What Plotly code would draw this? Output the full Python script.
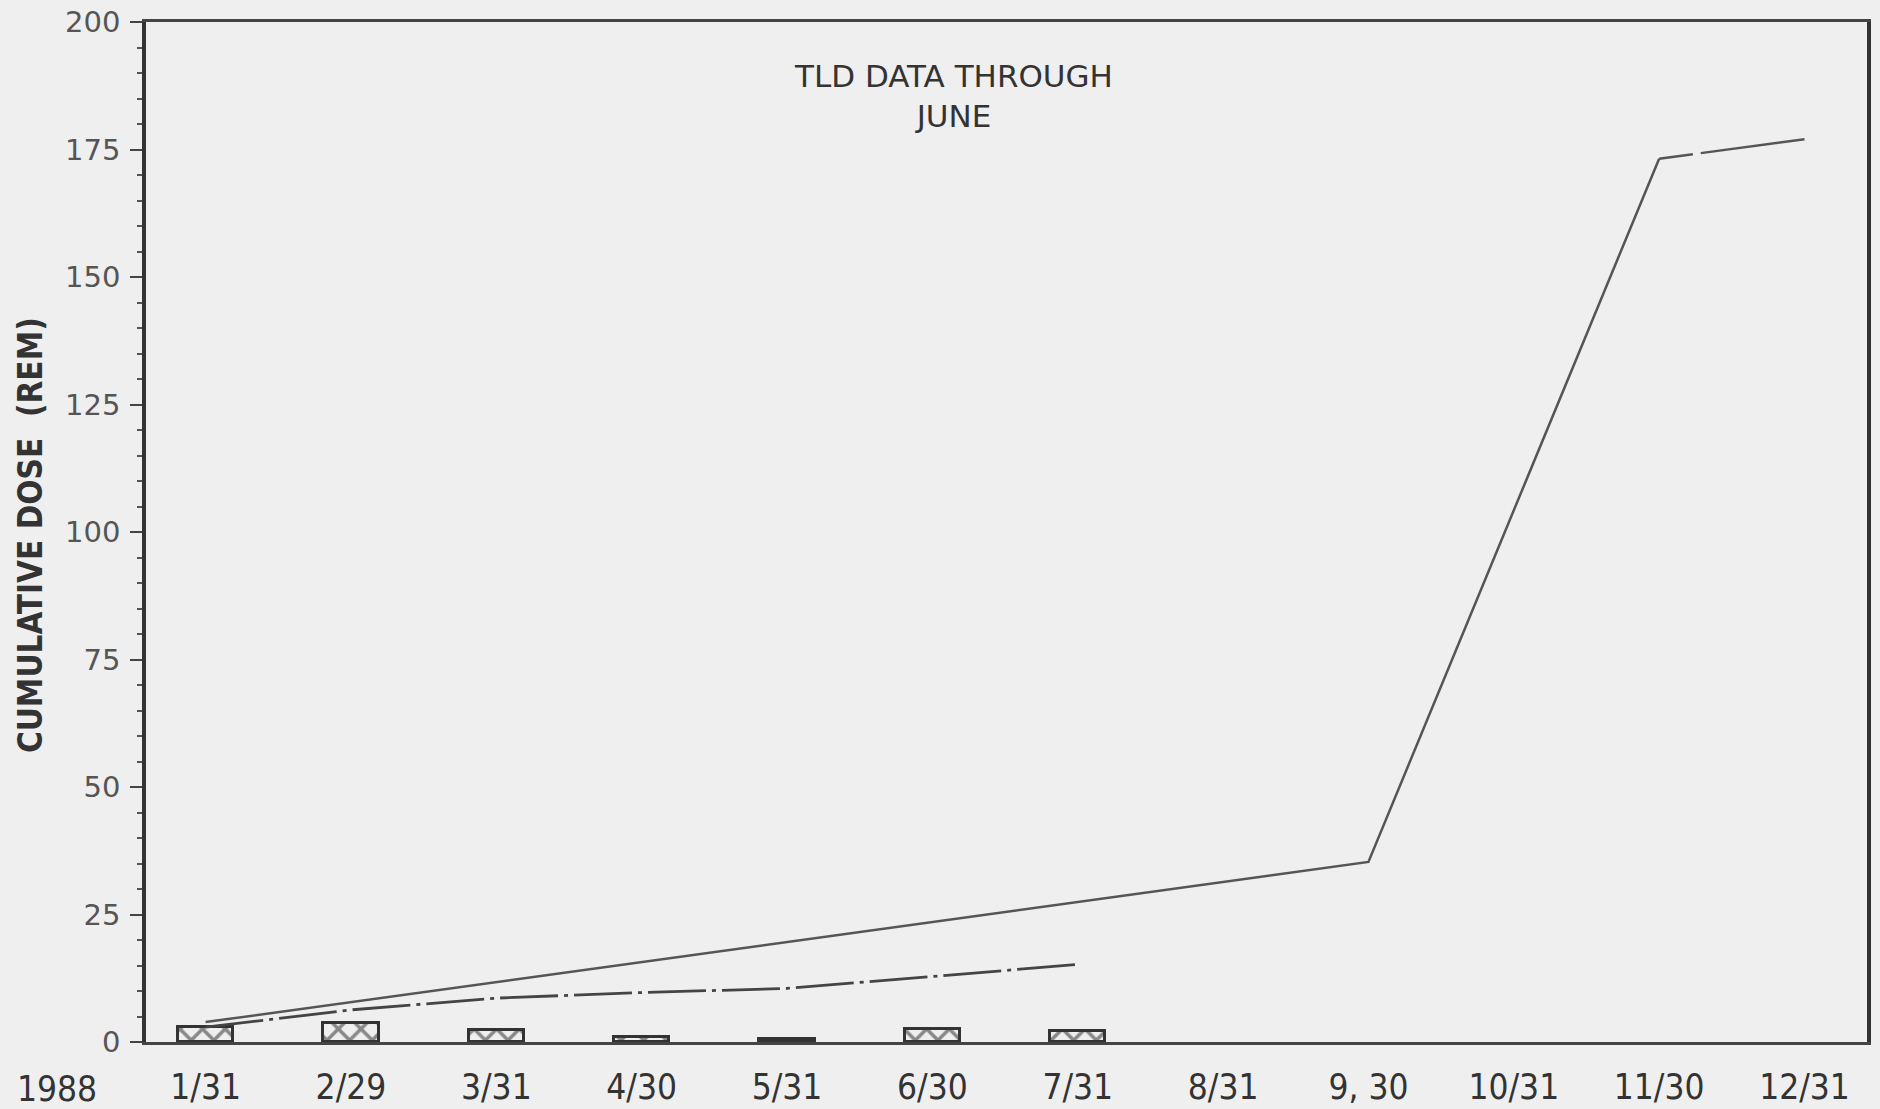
import plotly.graph_objects as go

# 1988 dose chart
months = ["1988", "1/31", "2/29", "3/31", "4/30", "5/31", "6/30", "7/31", "8/31", "9, 30", "10/31", "11/30", "12/31"]

# monthly TLD dose (hatched boxes)
tld_months = ["1/31", "2/29", "3/31", "4/30", "5/31", "6/30", "7/31"]
tld_dose = [2.9, 3.8, 2.4, 1.0, 0.6, 2.5, 2.1]

# cumulative TLD dose (dash-dot)
cum_months = ["1/31", "2/29", "3/31", "4/30", "5/31", "6/30", "7/31"]
cum_dose = [2.9, 6.3, 8.6, 9.7, 10.5, 12.9, 15.2]

# projected cumulative dose (solid)
proj_months = ["1/31", "9, 30", "11/30"]
proj_dose = [3.9, 35.3, 173.2]
tail_months = ["11/30", "12/31"]
tail_dose = [173.2, 177.0]

BG = "#efefef"
INK = "#333333"
XFONT = "Liberation Sans Narrow, DejaVu Sans Condensed, Liberation Sans, sans-serif"
YTFONT = "DejaVu Sans Condensed, DejaVu Sans, sans-serif"

fig = go.Figure()

fig.add_trace(go.Bar(
    x=tld_months, y=tld_dose, width=0.38,
    marker=dict(color=BG, line=dict(color=INK, width=3),
                pattern=dict(shape="x", fgcolor="#222222", bgcolor=BG, size=16, solidity=0.4)),
    showlegend=False,
))
fig.add_trace(go.Scatter(
    x=proj_months, y=proj_dose, mode="lines",
    line=dict(color="#555555", width=2.5), showlegend=False,
))
fig.add_trace(go.Scatter(
    x=tail_months, y=tail_dose, mode="lines",
    line=dict(color="#555555", width=2.5, dash="34px,8px,300px"), showlegend=False,
))
fig.add_trace(go.Scatter(
    x=cum_months, y=cum_dose, mode="lines",
    line=dict(color="#444444", width=2.8, dash="58px,6px,4px,6px"), showlegend=False,
))

fig.update_layout(
    width=1880, height=1109,
    margin=dict(l=146, r=13, t=22, b=67),
    paper_bgcolor=BG, plot_bgcolor=BG,
    bargap=0,
    annotations=[
        dict(text="TLD DATA THROUGH<br>JUNE", xref="paper", yref="paper", x=0.469, y=0.927,
             xanchor="center", yanchor="middle",
             showarrow=False, font=dict(family="DejaVu Sans", size=31, color="#333333")),
        dict(text="1988", xref="paper", yref="paper", x=-0.052, y=-0.046,
             xanchor="center", yanchor="middle",
             showarrow=False, font=dict(family=XFONT, size=35, color="#333333")),
        dict(text="<b>CUMULATIVE DOSE  (REM)</b>", xref="paper", yref="paper", x=-0.0674, y=0.497,
             xanchor="center", yanchor="middle",
             textangle=-90, showarrow=False, font=dict(family=YTFONT, size=33, color="#333333")),
    ],
)

fig.update_xaxes(
    type="category", categoryorder="array", categoryarray=months,
    range=[0.59, 12.43], automargin=False,
    showline=True, linecolor="#444444", linewidth=2.5, mirror=True,
    showgrid=False, zeroline=False, ticks="",
    tickfont=dict(family=XFONT, size=35, color="#333333"),
    ticklabelstandoff=12,
)
fig.update_yaxes(
    range=[0, 200], tickvals=[0, 25, 50, 75, 100, 125, 150, 175, 200], automargin=False,
    showline=True, linecolor="#333333", linewidth=3.5, mirror=True,
    showgrid=False, zeroline=False,
    ticks="outside", ticklen=12, tickwidth=2, tickcolor="#444444",
    minor=dict(dtick=5, ticks="outside", ticklen=5, tickwidth=1.5, tickcolor="#555555"),
    tickfont=dict(family="DejaVu Sans", size=29, color="#555555"),
    ticklabelstandoff=4,
)

# drop the default page margin so the figure fills the window
fig.write_html("out.html", post_script="document.body.style.margin='0'; document.body.style.overflow='hidden';",
               config={"displayModeBar": False})
